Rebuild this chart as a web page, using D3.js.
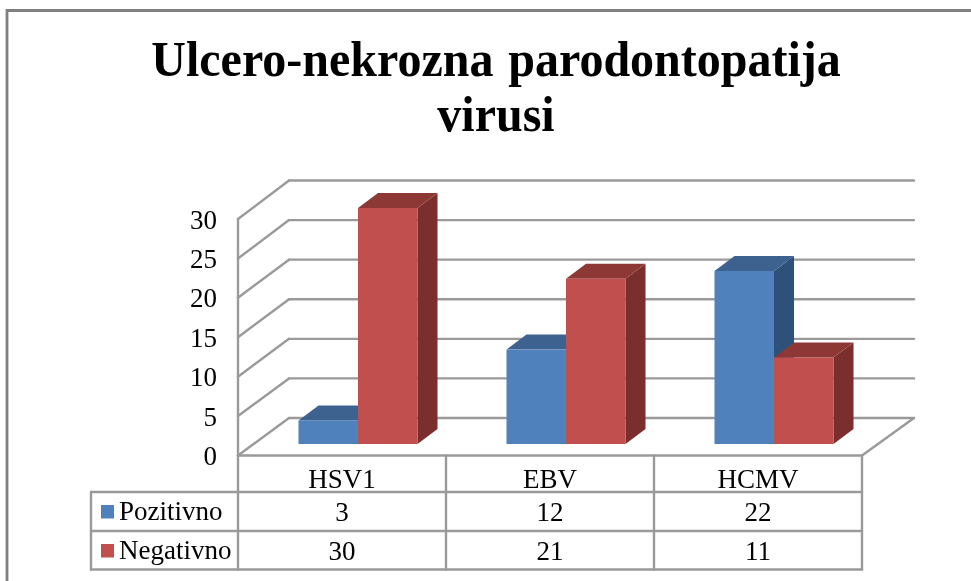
<!DOCTYPE html>
<html><head><meta charset="utf-8">
<script src="https://cdnjs.cloudflare.com/ajax/libs/d3/7.8.5/d3.min.js"></script>
<style>html,body{margin:0;padding:0;background:#fff}svg{display:block}
text{font-family:"Liberation Serif",serif;fill:#000}</style></head><body>
<script>
const categories = ["HSV1","EBV","HCMV"];
const pozitivno = [3,12,22];
const negativno = [30,21,11];
const seriesNames = ["Pozitivno","Negativno"];
const yTicks = [0,5,10,15,20,25,30];
const titleLines = ["Ulcero-nekrozna parodontopatija","virusi"];

const W=971,H=581;
const svg=d3.select("body").append("svg").attr("width",W).attr("height",H);
const defs=svg.append("defs");
defs.append("filter").attr("id","soft").append("feGaussianBlur").attr("stdDeviation",0.5);
const root=svg.append("g").attr("filter","url(#soft)");
const grid="#9a9a9a";
const line=(g,x1,y1,x2,y2,w=2.4)=>g.append("line").attr("x1",x1).attr("y1",y1).attr("x2",x2).attr("y2",y2).attr("stroke",grid).attr("stroke-width",w).attr("stroke-linecap","round");

// outer frame
root.append("path").attr("d","M7,581V10.5H971").attr("fill","none").attr("stroke","#808080").attr("stroke-width",2.8);

// title
titleLines.forEach((t,i)=>root.append("text")
  .attr("transform",`translate(496,${76+i*55}) scale(0.96,1)`).attr("text-anchor","middle")
  .attr("font-size",50).attr("font-weight","bold").style("word-spacing","3px").text(t));

// scales: front wall and back wall of the 3D box
const yFront=d3.scaleLinear().domain([0,30]).range([455.5,219]);
const yBack=d3.scaleLinear().domain([0,30]).range([418,180.5]);
const yBar=d3.scaleLinear().domain([0,30]).range([444,208]);
const xCol=d3.scaleBand().domain(categories).range([238,862]);
const xBar=d3.scaleBand().domain(categories).range([254,878]);
const backL=289,backR=914,depthX=20,depthY=15,barW=59.5;

// gridlines
yTicks.forEach(v=>{
  line(root,238,yFront(v),backL,yBack(v));
  line(root,backL,yBack(v),backR,yBack(v));
});
line(root,238,yFront(30),238,yFront(0));
line(root,238,yFront(0),862,yFront(0));
line(root,862,yFront(0),backR,yBack(0));

// y tick labels
yTicks.forEach(v=>root.append("text").attr("x",217).attr("y",yFront(v)+9.5).attr("text-anchor","end")
  .attr("font-size",27).text(v));

// bars
const colors=[{f:"#4F81BD",t:"#3C6290",s:"#2F5179"},{f:"#C0504D",t:"#8E3836",s:"#7A2F2E"}];
const barData=[];
categories.forEach((c,i)=>{
  [pozitivno[i],negativno[i]].forEach((v,s)=>barData.push({c,v,s}));
});
const bars=root.selectAll("g.bar").data(barData).join("g").attr("class","bar");
const bx=d=>xBar(d.c)+xBar.bandwidth()/2+(d.s===0?-barW:0);
bars.each(function(d){
  const g=d3.select(this),x=bx(d),y=yBar(d.v),y0=yBar(0),c=colors[d.s],w=barW;
  g.append("path").attr("fill",c.s).attr("d",`M${x+w},${y}l${depthX},${-depthY}V${y0-depthY}L${x+w},${y0}Z`);
  g.append("path").attr("fill",c.t).attr("d",`M${x},${y}l${depthX},${-depthY}h${w}l${-depthX},${depthY}Z`);
  g.append("rect").attr("x",x).attr("y",y).attr("width",w).attr("height",y0-y).attr("fill",c.f);
});

// data table
const rowY=[455.5,492,531,569.5];
const tableLeft=91;
rowY.slice(1).forEach(y=>line(root,tableLeft,y,862,y));
line(root,tableLeft,rowY[1],tableLeft,rowY[3]);
xCol.domain().forEach(c=>line(root,xCol(c)+xCol.bandwidth(),rowY[0],xCol(c)+xCol.bandwidth(),rowY[3]));
line(root,238,rowY[0],238,rowY[3]);

const cx=c=>xCol(c)+xCol.bandwidth()/2;
categories.forEach((c,i)=>{
  root.append("text").attr("x",cx(c)).attr("y",488).attr("text-anchor","middle").attr("font-size",27).text(c);
  root.append("text").attr("x",cx(c)).attr("y",521).attr("text-anchor","middle").attr("font-size",27).text(pozitivno[i]);
  root.append("text").attr("x",cx(c)).attr("y",560).attr("text-anchor","middle").attr("font-size",27).text(negativno[i]);
});
seriesNames.forEach((n,s)=>{
  const y=[521,560][s];
  root.append("rect").attr("x",101).attr("y",y-16).attr("width",13).attr("height",13.5).attr("fill",colors[s].f);
  root.append("text").attr("x",119).attr("y",y-1).attr("font-size",27).text(n);
});
</script></body></html>
